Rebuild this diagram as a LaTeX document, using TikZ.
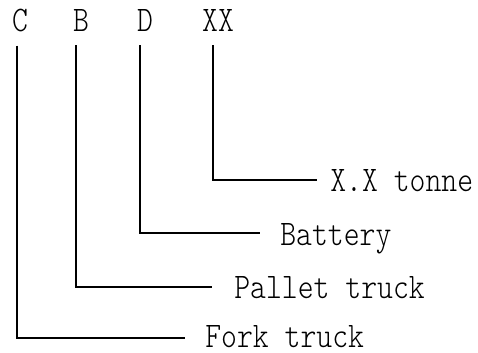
\documentclass[tikz,border=0pt]{standalone}
\usepackage{fontspec}
\setmonofont[FakeStretch=0.84]{Latin Modern Mono Light}
\usepackage{tikz}
\usetikzlibrary{positioning, calc}

\begin{document}
\begin{tikzpicture}[
  x=0.75pt, y=-0.75pt,
  code/.style={
    inner sep=0pt, font=\ttfamily\fontsize{27}{27}\selectfont,
  },
  meaning/.style={
    code, anchor=base west,
  },
  link/.style={line width=1.5pt, black},
]
  \useasboundingbox (0,0) rectangle (478,353);

  % Code letters on top
  \node[code, anchor=base] (c)  at (20,32)  {C};
  \node[code, anchor=base] (b)  at (81,32)  {B};
  \node[code, anchor=base] (d)  at (145,32) {D};
  \node[code, anchor=base] (xx) at (218,32) {XX};

  % Meanings
  \node[meaning] (tonne)   at (330,191) {X.X tonne};
  \node[meaning] (battery) at (280,245) {Battery};
  \node[meaning] (pallet)  at (234,298) {Pallet truck};
  \node[meaning] (fork)    at (205,347) {Fork truck};

  % Leaders
  \draw[link] ($(xx.south)+(-5,13)$) |- ($(tonne.base west)+(-13,-11)$);
  \draw[link] ($(d.south)+(-5,13)$)  |- ($(battery.base west)+(-20,-12)$);
  \draw[link] ($(b.south)+(-5,13)$)  |- ($(pallet.base west)+(-22,-11)$);
  \draw[link] ($(c.south)+(-3,13)$)  |- ($(fork.base west)+(-20,-9)$);
\end{tikzpicture}
\end{document}
